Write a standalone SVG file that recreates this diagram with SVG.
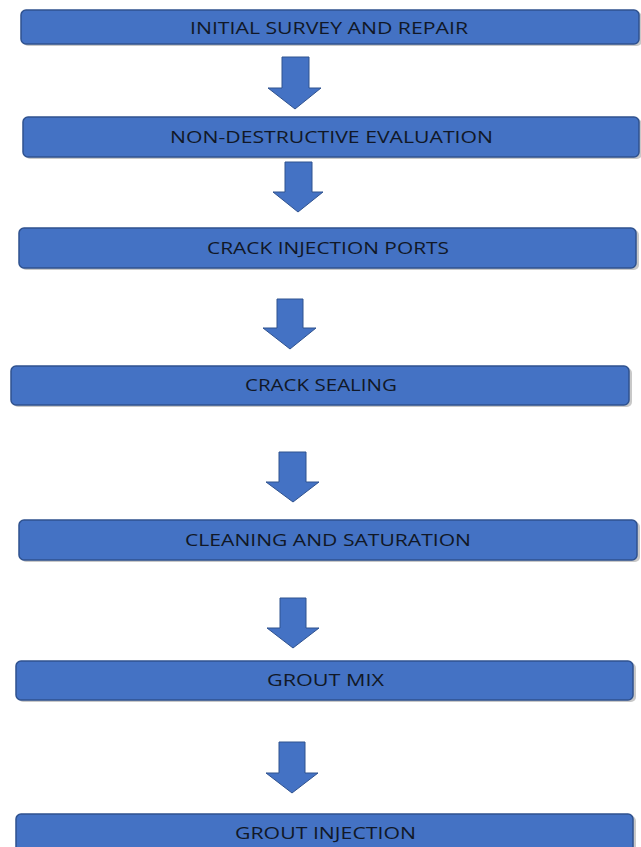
<svg xmlns="http://www.w3.org/2000/svg" width="641" height="847" viewBox="0 0 641 847">
<defs>
<style>
.box{fill:#4472C4;stroke:#2F528F;stroke-width:1.5}
.sh{fill:#c8c8c8}
.lbl{font-family:"Open Sans","Liberation Sans",Arial,sans-serif;font-size:17px;fill:#111827;text-anchor:middle}
.arr{fill:#4472C4;stroke:#2F528F;stroke-width:1}
</style>
</defs>
<rect width="641" height="847" fill="#ffffff"/>
<g id="connectors">
<polygon class="arr" points="282,57 309,57 309,88 321,88 295,109 268,88 282,88"/>
<polygon class="arr" points="285,162 312,162 312,192 323,192 298,212 273,192 285,192"/>
<polygon class="arr" points="277,299 303,299 303,328 316,328 290,349 263,328 277,328"/>
<polygon class="arr" points="279,452 306,452 306,482 319,482 293,502 266,482 279,482"/>
<polygon class="arr" points="280,598 306,598 306,628 319,628 293,648 267,628 280,628"/>
<polygon class="arr" points="279,742 305,742 305,773 318,773 292,793 266,773 279,773"/>
</g>
<g id="n1">
<rect class="sh" x="23" y="12" width="619" height="34" rx="5"/>
<rect class="box" x="21" y="10" width="618" height="34" rx="5"/>
<text class="lbl" x="329" y="33.5" textLength="278" lengthAdjust="spacingAndGlyphs">INITIAL SURVEY AND REPAIR</text>
</g>
<g id="n2">
<rect class="sh" x="25" y="119" width="617" height="40" rx="5"/>
<rect class="box" x="23" y="117" width="616" height="40" rx="5"/>
<text class="lbl" x="331.5" y="143" textLength="323" lengthAdjust="spacingAndGlyphs">NON-DESTRUCTIVE EVALUATION</text>
</g>
<g id="n3">
<rect class="sh" x="21" y="230" width="618" height="40" rx="5"/>
<rect class="box" x="19" y="228" width="617" height="40" rx="5"/>
<text class="lbl" x="328" y="253.5" textLength="242" lengthAdjust="spacingAndGlyphs">CRACK INJECTION PORTS</text>
</g>
<g id="n4">
<rect class="sh" x="13" y="368" width="619" height="39" rx="5"/>
<rect class="box" x="11" y="366" width="618" height="39" rx="5"/>
<text class="lbl" x="321" y="390.5" textLength="152" lengthAdjust="spacingAndGlyphs">CRACK SEALING</text>
</g>
<g id="n5">
<rect class="sh" x="21" y="522" width="619" height="40" rx="5"/>
<rect class="box" x="19" y="520" width="618" height="40" rx="5"/>
<text class="lbl" x="328" y="546" textLength="286" lengthAdjust="spacingAndGlyphs">CLEANING AND SATURATION</text>
</g>
<g id="n6">
<rect class="sh" x="18" y="663" width="618" height="39" rx="5"/>
<rect class="box" x="16" y="661" width="617" height="39" rx="5"/>
<text class="lbl" x="325.5" y="686" textLength="117" lengthAdjust="spacingAndGlyphs">GROUT MIX</text>
</g>
<g id="n7">
<rect class="sh" x="18" y="816" width="618" height="40" rx="5"/>
<rect class="box" x="16" y="814" width="617" height="40" rx="5"/>
<text class="lbl" x="325.5" y="838.5" textLength="181" lengthAdjust="spacingAndGlyphs">GROUT INJECTION</text>
</g>
</svg>
